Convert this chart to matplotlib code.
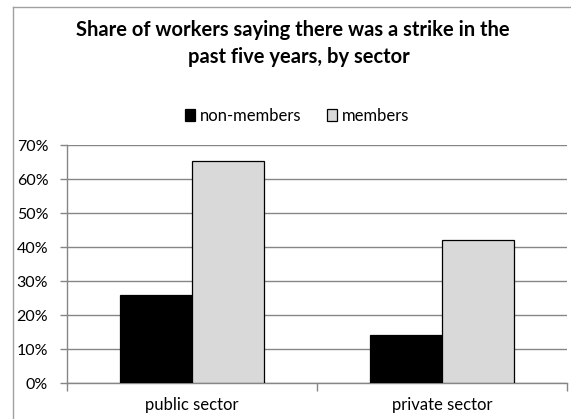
import matplotlib.pyplot as plt
import numpy as np
from matplotlib.lines import Line2D
from matplotlib.ticker import PercentFormatter

sectors = ['public sector', 'private sector']
non_members = [26.1, 14.2]
members = [65.4, 42.2]
y_ticks = [0, 10, 20, 30, 40, 50, 60, 70]

plt.rcParams['font.family'] = ['Lato', 'DejaVu Sans']

fig = plt.figure(figsize=(5.71, 4.19), dpi=100)
ax = fig.add_axes([67 / 571, 1 - 383.3 / 419, (566.7 - 67) / 571, (383.3 - 145.3) / 419])

grey = '#868686'
x = np.arange(len(sectors))
w = 0.288
b1 = ax.bar(x - w / 2, non_members, w, color='black', edgecolor='black', lw=0.9, zorder=3, label='non-members')
b2 = ax.bar(x + w / 2, members, w, color='#d9d9d9', edgecolor='black', lw=0.9, zorder=3, label='members')

ax.set_xlim(-0.5, 1.5)
ax.set_ylim(0, 70)
ax.set_yticks(y_ticks)
ax.yaxis.set_major_formatter(PercentFormatter(decimals=0))
ax.grid(axis='y', color=grey, lw=1, zorder=0)

ax.set_xticks(x)
ax.set_xticklabels(sectors)
ax.set_xticks([-0.5, 0.5, 1.5], minor=True)
ax.tick_params(axis='x', which='major', length=0, pad=10, labelsize=12)
ax.tick_params(axis='x', which='minor', length=6, color=grey, width=1)
ax.tick_params(axis='y', length=5, color=grey, width=1, pad=8.5, labelsize=11.5)

for s in ['top', 'right']:
    ax.spines[s].set_visible(False)
for s in ['left', 'bottom']:
    ax.spines[s].set_color(grey)
    ax.spines[s].set_linewidth(1)

fig.text(292.5 / 571, 1 - 30 / 419, 'Share of workers saying there was a strike in the',
         ha='center', va='center', fontsize=14.5, fontweight='bold')
fig.text(298.5 / 571, 1 - 57 / 419, 'past five years, by sector',
         ha='center', va='center', fontsize=14.5, fontweight='bold')

fig.legend(handles=[b1, b2], loc='center', bbox_to_anchor=(297 / 571, 1 - 116 / 419),
           ncol=2, frameon=False, fontsize=12, handlelength=0.62, handleheight=0.75,
           handletextpad=0.3, columnspacing=1.5, borderpad=0)

# chart border (left and top edges visible)
fig.add_artist(Line2D([12.7 / 571, 12.7 / 571], [0, 1 - 7 / 419], color='#a0a0a0', lw=1))
fig.add_artist(Line2D([12.7 / 571, 1], [1 - 7 / 419, 1 - 7 / 419], color='#a0a0a0', lw=1))

fig.savefig('out.png', dpi=100)
